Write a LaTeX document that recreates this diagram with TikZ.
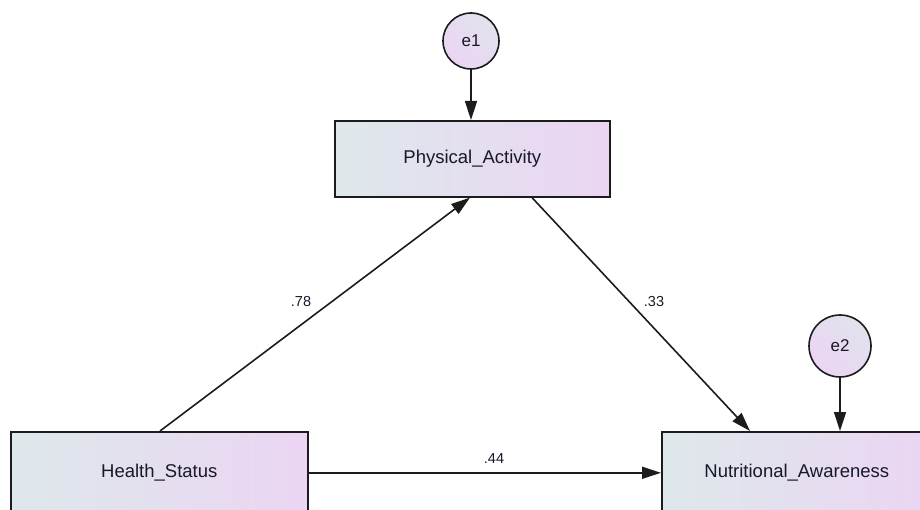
\documentclass[tikz,border=0pt]{standalone}
\usepackage{fontspec}
\setmainfont{Liberation Sans}
\usetikzlibrary{arrows.meta}
\definecolor{boxL}{HTML}{DEE8EB}
\definecolor{boxR}{HTML}{EBD5F3}
\definecolor{edgeC}{HTML}{1C1C1C}
\definecolor{txtC}{HTML}{18182A}
\begin{document}
\begin{tikzpicture}[x=1pt,y=-1pt,
  var/.style={draw=edgeC, line width=1.6pt, left color=boxL, right color=boxR,
    anchor=north west, inner sep=0pt, text=txtC,
    font=\fontsize{18.5}{20}\selectfont},
  err/.style={circle, draw=edgeC, line width=1.6pt, shading=axis,
    left color=boxL!70!boxR, right color=boxR, shading angle=-45,
    inner sep=0pt, text=txtC, font=\fontsize{17}{19}\selectfont},
  link/.style={draw=edgeC, line width=1.6pt,
    -{Triangle[length=19pt,width=12pt]}},
  coef/.style={font=\fontsize{14.5}{16}\selectfont, text=txtC}]
\useasboundingbox (0,0) rectangle (920,510);
\begin{scope}
\clip (0,0) rectangle (920,510);
% observed variables
\node[var, minimum width=275pt, minimum height=76pt] (pa) at (334,120) {Physical\_Activity};
\node[var, minimum width=297pt, minimum height=82pt] (hs) at (10,431) {Health\_Status};
\node[var, minimum width=270pt, minimum height=82pt] (na) at (661,431) {Nutritional\_Awareness};
% error terms
\node[err, minimum size=56pt] (e1) at (471,41) {e1};
\node[err, minimum size=62pt] (e2) at (840,346) {e2};
% paths
\draw[link] (e1.south) -- (e1.south |- pa.north);
\draw[link] (e2.south) -- (e2.south |- na.north);
\draw[link] ([xshift=150pt]hs.north west) -- ([xshift=136pt]pa.south west);
\draw[link] ([xshift=198pt]pa.south west) -- ([xshift=89pt]na.north west);
\draw[link] (hs.east) -- (hs.east -| na.west);
% standardized coefficients
\node[coef] (c78) at (301,302) {.78};
\node[coef] (c33) at (654,302) {.33};
\node[coef] (c44) at (494,459) {.44};
\end{scope}
\end{tikzpicture}
\end{document}
